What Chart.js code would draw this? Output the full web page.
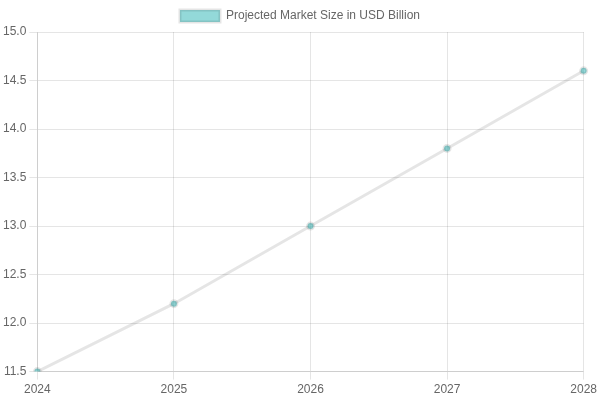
<!DOCTYPE html>
<html>
<head>
<meta charset="utf-8">
<script src="https://cdn.jsdelivr.net/npm/chart.js@4"></script>
<style>
    html, body { margin: 0; padding: 0; background: #fff; }
    #wrap { width: 600px; height: 400px; }
</style>
</head>
<body>
<div id="wrap"><canvas id="marketChart"></canvas></div>
<script>
const years = ['2024', '2025', '2026', '2027', '2028'];
const marketSize = [11.5, 12.2, 13.0, 13.8, 14.6];

document.addEventListener('DOMContentLoaded', function() {
    const ctx = document.getElementById('marketChart').getContext('2d');

    const data = {
        labels: years,
        datasets: [{
            label: 'Projected Market Size in USD Billion',
            data: marketSize,
            backgroundColor: 'rgba(75, 192, 192, 0.6)',
            borderWidth: 3
        }]
    };

    new Chart(ctx, {
        type: 'line',
        data: data,
        options: {
            responsive: true,
            maintainAspectRatio: false,
            animation: false,
            scales: {
                y: {
                    min: 11.5,
                    max: 15,
                    ticks: { stepSize: 0.5 }
                }
            },
            plugins: {
                legend: {
                    display: true,
                    position: 'top'
                }
            }
        }
    });
});
</script>
</body>
</html>
